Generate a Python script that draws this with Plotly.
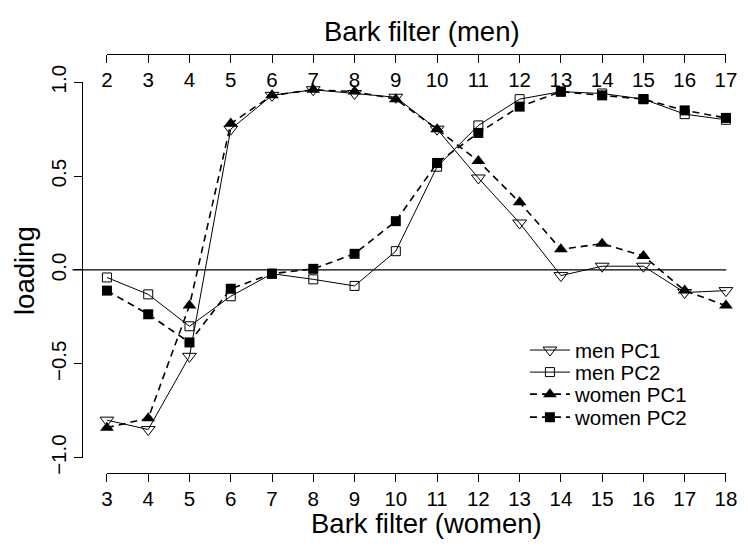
import plotly.graph_objects as go

# Bark filter positions
bark_women = list(range(3, 19))   # bottom axis
bark_men = list(range(2, 18))     # top axis

men_pc1 = [-0.80, -0.85, -0.46, 0.75, 0.93, 0.96, 0.94, 0.92, 0.75, 0.49, 0.25, -0.03, 0.02, 0.02, -0.12, -0.11]
men_pc2 = [-0.04, -0.13, -0.30, -0.14, -0.02, -0.05, -0.085, 0.10, 0.55, 0.77, 0.91, 0.95, 0.94, 0.91, 0.83, 0.80]
women_pc1 = [-0.84, -0.79, -0.19, 0.78, 0.93, 0.96, 0.95, 0.91, 0.75, 0.58, 0.36, 0.11, 0.14, 0.075, -0.11, -0.19]
women_pc2 = [-0.11, -0.236, -0.386, -0.10, -0.02, 0.006, 0.086, 0.26, 0.57, 0.73, 0.87, 0.95, 0.93, 0.91, 0.85, 0.81]

y_ticks = [-1.0, -0.5, 0.0, 0.5, 1.0]
y_ticktext = [f"{v:.1f}".replace("-", "\u2212") for v in y_ticks]

W, H = 748, 554
FONT = "Liberation Sans, Arial, Helvetica, sans-serif"
TICK_SIZE = 20.5
TITLE_SIZE = 27.5

# pixel layout
x_left, x_right = 103.3, 736.7      # positions of first/last bark filter
y_top, y_bot = 69.5, 469.5          # positions of 1.0 / -1.0
bottom_axis_y = 485.3
top_axis_y = 39.3
yaxis_x = 77.5
legend_x = 531
legend_rows = [355, 378.5, 402, 426.5]

fig = go.Figure()

fig.add_trace(go.Scatter(
    x=bark_men, y=men_pc1, xaxis="x2", yaxis="y", name="men PC1", legend="legend",
    mode="lines+markers", cliponaxis=False,
    line=dict(color="black", width=1),
    marker=dict(symbol="triangle-down-open", size=12, color="black", line=dict(width=1, color="black")),
))
fig.add_trace(go.Scatter(
    x=bark_men, y=men_pc2, xaxis="x2", yaxis="y", name="men PC2", legend="legend2",
    mode="lines+markers", cliponaxis=False,
    line=dict(color="black", width=1),
    marker=dict(symbol="square-open", size=9, color="black", line=dict(width=1, color="black")),
))
fig.add_trace(go.Scatter(
    x=bark_women, y=women_pc1, xaxis="x", yaxis="y", name="women PC1", legend="legend3",
    mode="lines+markers", cliponaxis=False,
    line=dict(color="black", width=1.6, dash="7px,5px"),
    marker=dict(symbol="triangle-up", size=12, color="black"),
))
fig.add_trace(go.Scatter(
    x=bark_women, y=women_pc2, xaxis="x", yaxis="y", name="women PC2", legend="legend4",
    mode="lines+markers", cliponaxis=False,
    line=dict(color="black", width=1.6, dash="7px,5px"),
    marker=dict(symbol="square", size=10, color="black"),
))

dom_x = [x_left / W, x_right / W]
dom_y = [(H - y_bot) / H, (H - y_top) / H]

axis_common = dict(
    tickcolor="black", tickwidth=1, ticklen=8,
    showline=True, linecolor="black", linewidth=1,
    showgrid=False, zeroline=False,
    tickfont=dict(size=TICK_SIZE),
    ticklabeloverflow="allow",
)


def legend_box(row_y):
    return dict(
        x=legend_x / W, y=(H - row_y) / H, xanchor="left", yanchor="middle",
        bgcolor="rgba(0,0,0,0)", font=dict(size=TICK_SIZE), itemwidth=40,
    )


fig.update_layout(
    width=W, height=H,
    margin=dict(l=0, r=0, t=0, b=0),
    paper_bgcolor="white", plot_bgcolor="white",
    font=dict(family=FONT, size=TICK_SIZE, color="black"),
    showlegend=True,
    legend=legend_box(legend_rows[0]),
    legend2=legend_box(legend_rows[1]),
    legend3=legend_box(legend_rows[2]),
    legend4=legend_box(legend_rows[3]),
    xaxis=dict(
        domain=dom_x, range=[bark_women[0], bark_women[-1]],
        anchor="free", position=(H - bottom_axis_y) / H,
        tickmode="array", tickvals=bark_women, ticktext=[str(v) for v in bark_women],
        ticks="outside", side="bottom",
        **axis_common,
    ),
    xaxis2=dict(
        domain=dom_x, range=[bark_men[0], bark_men[-1]],
        overlaying="x", side="bottom", anchor="free", position=(H - top_axis_y) / H,
        tickmode="array", tickvals=bark_men, ticktext=[str(v) for v in bark_men],
        ticks="outside",
        **axis_common,
    ),
    yaxis=dict(
        domain=dom_y, range=[-1, 1],
        anchor="free", position=yaxis_x / W,
        tickmode="array", tickvals=y_ticks, ticktext=y_ticktext,
        tickangle=-90, ticks="outside",
        **axis_common,
    ),
    shapes=[dict(
        type="line", xref="paper", yref="y",
        x0=68 / W, x1=737 / W, y0=0, y1=0,
        line=dict(color="black", width=1.3),
        layer="below",
    )],
    annotations=[
        dict(text="Bark filter (men)", xref="paper", yref="paper",
             x=426 / W, y=(H - 15) / H, xanchor="center", yanchor="middle",
             showarrow=False, font=dict(size=TITLE_SIZE)),
        dict(text="Bark filter (women)", xref="paper", yref="paper",
             x=430 / W, y=(H - 540) / H, xanchor="center", yanchor="middle",
             showarrow=False, font=dict(size=TITLE_SIZE)),
        dict(text="loading", xref="paper", yref="paper",
             x=19 / W, y=(H - 270) / H, xanchor="center", yanchor="middle",
             textangle=-90, showarrow=False, font=dict(size=TITLE_SIZE)),
    ],
)

fig.write_html("out.html")
